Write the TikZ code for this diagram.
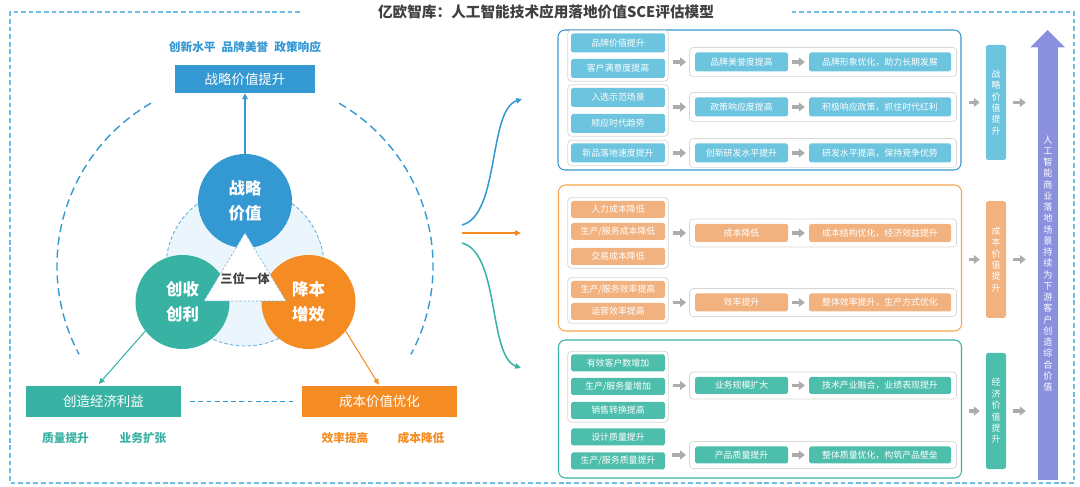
\documentclass[tikz,border=0pt]{standalone}
\usepackage{fontspec}
\setmainfont{Noto Sans CJK SC}
\usetikzlibrary{arrows.meta,positioning,fit,calc}
\definecolor{stratblue}{RGB}{52,152,210}
\definecolor{revteal}{RGB}{56,178,163}
\definecolor{costorange}{RGB}{245,140,35}
\definecolor{skytag}{RGB}{108,196,222}
\definecolor{peachtag}{RGB}{242,178,128}
\definecolor{minttag}{RGB}{78,190,172}
\definecolor{aipurple}{RGB}{138,143,222}
\definecolor{framesky}{RGB}{110,190,228}
\definecolor{arrowgrey}{RGB}{172,172,172}
\definecolor{grpline}{RGB}{215,215,215}
\definecolor{corefill}{RGB}{234,246,252}
\definecolor{titlegrey}{RGB}{64,64,64}
\tikzset{
  base/.style={font=\fontsize{7.6}{9}\selectfont, align=center, inner sep=0pt, text=white},
  tag/.style={base, rectangle, rounded corners=1.5pt, minimum height=0.51cm},
  lbox/.style={tag, minimum width=2.82cm},
  mbox/.style={tag, minimum width=2.79cm},
  rbox/.style={tag, minimum width=4.26cm},
  grp/.style={rectangle, rounded corners=3pt, draw=grpline, line width=0.6pt, inner sep=0.09cm},
  rowgrp/.style={grp, inner xsep=0.16cm, inner ysep=0.14cm},
  panel/.style={rectangle, rounded corners=6pt, draw=#1, line width=0.9pt, minimum width=12.09cm},
  vbox/.style={base, rectangle, rounded corners=2pt, minimum width=0.6cm, font=\fontsize{7.6}{9.7}\selectfont},
  aibar/.style={base, rectangle, fill=aipurple, minimum width=0.6cm, minimum height=12.99cm, font=\fontsize{7.8}{9.6}\selectfont},
  garr/.style={-{Triangle[length=5pt,width=7.5pt]}, line width=3.4pt, draw=arrowgrey, shorten <=0.12cm, shorten >=0.12cm},
  thinarr/.style={-{Triangle[length=5pt,width=4.5pt]}, line width=0.9pt},
  flow/.style={thinarr, line width=1.3pt},
  circ/.style={circle, fill=#1, minimum size=2.82cm, inner sep=0pt, text=white, align=center, font=\bfseries\fontsize{14}{21}\selectfont},
  hbox/.style={rectangle, fill=#1, text=white, font=\fontsize{11.5}{13}\selectfont, minimum width=4.65cm, minimum height=0.93cm},
  keyw/.style={font=\bfseries\fontsize{10}{12}\selectfont, text=#1},
  ttl/.style={font=\bfseries\fontsize{12.5}{15}\selectfont, text=titlegrey},
  outer/.style={draw=framesky, line width=1pt, dash pattern=on 4pt off 2.5pt},
  ring/.style={draw=stratblue, line width=1.2pt, dash pattern=on 7pt off 4pt},
  core/.style={draw=stratblue!80, fill=corefill, line width=0.7pt, dash pattern=on 3pt off 2pt},
  tri/.style={fill=white, draw=stratblue!70, line width=0.5pt, dash pattern=on 2pt off 1.5pt},
  trilbl/.style={font=\bfseries\fontsize{10.5}{12}\selectfont, text=titlegrey},
  linkdash/.style={draw=stratblue, line width=0.9pt, dash pattern=on 4pt off 3pt, shorten <=0.27cm, shorten >=0.27cm},
}

\begin{document}
\begin{tikzpicture}[x=0.03cm,y=0.03cm]
  \useasboundingbox (0,0) rectangle (1080,-487);
  % title and frame
  \node[ttl] (title) at (546,-12) {亿欧智库：人工智能技术应用落地价值SCE评估模型};
  \draw[outer] (300,-12) -- (10,-12) -- (10,-483) -- (1074,-483) -- (1074,-12) -- (792,-12);

  % left: three values
  \draw[ring] (245,-266) ++(120:5.64cm) arc[start angle=120,end angle=208,radius=5.64cm];
  \draw[ring] (245,-266) ++(60:5.64cm) arc[start angle=60,end angle=-28,radius=5.64cm];
  \draw[core] (245,-267) circle (2.37cm);
  \node[circ=stratblue] (sv) at (245,-201) {战略\\价值};
  \node[circ=revteal] (rv) at (182.5,-302) {创收\\创利};
  \node[circ=costorange] (cv) at (308.5,-302) {降本\\增效};
  \filldraw[tri] (245,-233) -- (204,-301) -- (286,-301) -- cycle;
  \node[trilbl] (unity) at (245,-279) {三位一体};

  \node[keyw=stratblue] (svk) at (245,-47) {创新水平\enspace 品牌美誉\enspace 政策响应};
  \node[hbox=stratblue, minimum width=4.17cm, minimum height=0.84cm] (svb) at (245,-79) {战略价值提升};
  \draw[thinarr, stratblue] (sv) -- (svb);

  \node[hbox=revteal] (eco) at (103.5,-401.5) {创造经济利益};
  \node[hbox=costorange] (cost) at (379.5,-401.5) {成本价值优化};
  \draw[thinarr, revteal, shorten >=2pt] (rv.218) -- ($(eco.north west)!0.46!(eco.north east)$);
  \draw[thinarr, costorange, shorten >=1pt] (cv.322) -- (cost.north);
  \draw[linkdash] (eco) -- (cost);
  \node[keyw=revteal] (ecoq) at (65.5,-438) {质量提升};
  \node[keyw=revteal] (ecob) at (143,-438) {业务扩张};
  \node[keyw=costorange] (coste) at (345,-438) {效率提高};
  \node[keyw=costorange] (costc) at (421,-438) {成本降低};

  % middle flows
  \coordinate (hubS) at (462,-225);
  \coordinate (hubC) at (462,-233);
  \coordinate (hubE) at (462,-243);
  \coordinate (toS) at (522,-99);
  \coordinate (toC) at (521,-233);
  \coordinate (toE) at (521,-368);
  \draw[flow, stratblue] (hubS) .. controls (500,-215) and (488,-110) .. (toS);
  \draw[flow, costorange] (hubC) -- (toC);
  \draw[flow, revteal] (hubE) .. controls (500,-253) and (488,-356) .. (toE);

  % strategic panel
  \node[panel=stratblue, minimum height=4.2cm] (pS) at (759.5,-100) {};
  \node[lbox, fill=skytag, minimum height=0.57cm] (s1) at (618,-43) {品牌价值提升};
  \node[lbox, fill=skytag, minimum height=0.57cm] (s2) at (618,-68.5) {客户满意度提高};
  \node[lbox, fill=skytag, minimum height=0.57cm] (s3) at (618,-97.5) {入选示范场景};
  \node[lbox, fill=skytag, minimum height=0.57cm] (s4) at (618,-123.5) {顺应时代趋势};
  \node[lbox, fill=skytag, minimum height=0.57cm] (s5) at (618,-153) {新品落地速度提升};
  \node[grp, fit=(s1)(s2)] (gs1) {};
  \node[grp, fit=(s3)(s4)] (gs2) {};
  \node[grp, fit=(s5)] (gs3) {};
  \node[mbox, fill=skytag, minimum height=0.57cm] (s6) at (741.5,-62) {品牌美誉度提高};
  \node[rbox, fill=skytag, minimum height=0.57cm] (s7) at (880,-62) {品牌形象优化，助力长期发展};
  \node[mbox, fill=skytag, minimum height=0.57cm] (s8) at (741.5,-107) {政策响应度提高};
  \node[rbox, fill=skytag, minimum height=0.57cm] (s9) at (880,-107) {积极响应政策，抓住时代红利};
  \node[mbox, fill=skytag, minimum height=0.57cm] (s10) at (741.5,-153) {创新研发水平提升};
  \node[rbox, fill=skytag, minimum height=0.57cm] (s11) at (880,-153) {研发水平提高，保持竞争优势};
  \node[rowgrp, fit=(s6)(s7)] (rs1) {};
  \node[rowgrp, fit=(s8)(s9)] (rs2) {};
  \node[rowgrp, fit=(s10)(s11)] (rs3) {};
  \draw[garr, shorten >=0.09cm] (gs1.east |- rs1.west) -- (rs1.west);
  \draw[garr, shorten >=0.09cm] (gs2.east |- rs2.west) -- (rs2.west);
  \draw[garr, shorten >=0.09cm] (gs3.east |- rs3.west) -- (rs3.west);
  \draw[garr] (s6) -- (s7);
  \draw[garr] (s8) -- (s9);
  \draw[garr] (s10) -- (s11);

  % cost panel
  \node[panel=costorange!80, minimum height=4.38cm] (pC) at (760,-258) {};
  \node[lbox, fill=peachtag] (c1) at (618,-209.5) {人力成本降低};
  \node[lbox, fill=peachtag] (c2) at (618,-231.5) {生产/服务成本降低};
  \node[lbox, fill=peachtag] (c3) at (618,-256.5) {交易成本降低};
  \node[lbox, fill=peachtag] (c4) at (618,-289.5) {生产/服务效率提高};
  \node[lbox, fill=peachtag] (c5) at (618,-311.5) {运营效率提高};
  \node[grp, fit=(c1)(c3)] (gc1) {};
  \node[grp, fit=(c4)(c5)] (gc2) {};
  \node[mbox, fill=peachtag, minimum height=0.54cm] (c6) at (741.5,-233) {成本降低};
  \node[rbox, fill=peachtag, minimum height=0.54cm] (c7) at (880,-233) {成本结构优化，经济效益提升};
  \node[mbox, fill=peachtag, minimum height=0.54cm] (c8) at (741.5,-302.5) {效率提升};
  \node[rbox, fill=peachtag, minimum height=0.54cm] (c9) at (880,-302.5) {整体效率提升，生产方式优化};
  \node[rowgrp, fit=(c6)(c7)] (rc1) {};
  \node[rowgrp, fit=(c8)(c9)] (rc2) {};
  \draw[garr, shorten >=0.09cm] (gc1.east |- rc1.west) -- (rc1.west);
  \draw[garr, shorten >=0.09cm] (gc2.east |- rc2.west) -- (rc2.west);
  \draw[garr] (c6) -- (c7);
  \draw[garr] (c8) -- (c9);

  % economic panel
  \node[panel=revteal, minimum height=4.14cm] (pE) at (760,-409) {};
  \node[lbox, fill=minttag] (e1) at (618,-363) {有效客户数增加};
  \node[lbox, fill=minttag] (e2) at (618,-386.5) {生产/服务量增加};
  \node[lbox, fill=minttag] (e3) at (618,-410.5) {销售转换提高};
  \node[lbox, fill=minttag] (e4) at (618,-437) {设计质量提升};
  \node[lbox, fill=minttag] (e5) at (618,-461) {生产/服务质量提升};
  \node[grp, fit=(e1)(e3)] (ge1) {};
  \node[mbox, fill=minttag] (e6) at (741.5,-385.5) {业务规模扩大};
  \node[rbox, fill=minttag] (e7) at (880,-385.5) {技术产业融合，业绩表现提升};
  \node[mbox, fill=minttag] (e8) at (741.5,-455) {产品质量提升};
  \node[rbox, fill=minttag] (e9) at (880,-455) {整体质量优化，构筑产品壁垒};
  \node[rowgrp, fit=(e6)(e7)] (re1) {};
  \node[rowgrp, fit=(e8)(e9)] (re2) {};
  \draw[garr, shorten >=0.09cm] (ge1.east |- re1.west) -- (re1.west);
  \draw[garr, shorten <=0.21cm, shorten >=0.09cm] (e5.east |- re2.west) -- (re2.west);
  \draw[garr] (e6) -- (e7);
  \draw[garr] (e8) -- (e9);

  % value columns and the AI arrow
  \node[aibar] (ai) at (1048,-263.5) {人\\工\\智\\能\\商\\业\\落\\地\\场\\景\\持\\续\\为\\下\\游\\客\\户\\创\\造\\综\\合\\价\\值};
  \fill[aipurple] (1030,-47.5) -- (1065,-47.5) -- (1047.5,-30) -- cycle;
  \node[vbox, fill=skytag, minimum height=3.45cm] (vS) at (996,-102.5) {战\\略\\价\\值\\提\\升};
  \node[vbox, fill=peachtag, minimum height=3.5cm] (vC) at (996,-259.5) {成\\本\\价\\值\\提\\升};
  \node[vbox, fill=minttag, minimum height=3.48cm] (vE) at (996,-411) {经\\济\\价\\值\\提\\升};
  \draw[garr, shorten <=0.21cm, shorten >=0.18cm] (pS.east |- vS.west) -- (vS.west);
  \draw[garr, shorten <=0.21cm, shorten >=0.18cm] (pC.east |- vC.west) -- (vC.west);
  \draw[garr, shorten <=0.21cm, shorten >=0.18cm] (pE.east |- vE.west) -- (vE.west);
  \draw[garr, shorten <=0.21cm, shorten >=0.36cm] (vS.east) -- (vS.east -| ai.west);
  \draw[garr, shorten <=0.21cm, shorten >=0.36cm] (vC.east) -- (vC.east -| ai.west);
  \draw[garr, shorten <=0.21cm, shorten >=0.36cm] (vE.east) -- (vE.east -| ai.west);
\end{tikzpicture}
\end{document}
